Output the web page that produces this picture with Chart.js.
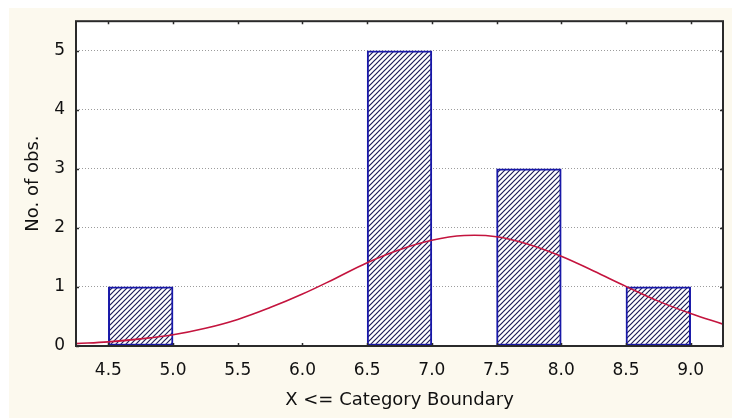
<!DOCTYPE html>
<html>
<head>
<meta charset="utf-8">
<title>Histogram</title>
<script src="https://cdn.jsdelivr.net/npm/chart.js@4.4.1/dist/chart.umd.min.js"></script>
<style>
  html, body { margin: 0; padding: 0; background: #ffffff; }
  canvas { display: block; }
</style>
</head>
<body>
<canvas id="histChart" width="732" height="420"></canvas>
<script>
// histogram bins (lower boundary) and counts
const binStarts = [4.5, 5.0, 5.5, 6.0, 6.5, 7.0, 7.5, 8.0, 8.5];
const binCounts = [1, 0, 0, 0, 5, 0, 3, 0, 1];
const binWidth = 0.5;

// fitted normal curve
const fitX = [4.25, 4.5, 4.75, 5.0, 5.25, 5.5, 5.75, 6.0, 6.25, 6.5, 6.75,
  7.0, 7.25, 7.5, 7.75, 8.0, 8.25, 8.5, 8.75, 9.0, 9.25];
const fitY = [0.04, 0.07, 0.12, 0.19, 0.30, 0.45, 0.65, 0.88, 1.14, 1.41, 1.63,
  1.79, 1.87, 1.85, 1.72, 1.52, 1.27, 1.01, 0.76, 0.55, 0.37];

const xTicks = [4.5, 5.0, 5.5, 6.0, 6.5, 7.0, 7.5, 8.0, 8.5, 9.0];
const yTicks = [0, 1, 2, 3, 4, 5];

const fontFamily = "'DejaVu Sans', 'Liberation Sans', sans-serif";
const textColor = "#111111";

document.addEventListener("DOMContentLoaded", () => {
  new Chart(document.getElementById("histChart"), {
    type: "bar",
    data: {
      datasets: [
        {
          type: "line",
          label: "Normal fit",
          data: fitX.map((x, i) => ({ x, y: fitY[i] })),
          borderColor: "#c4143e",
          borderWidth: 1.6,
          pointRadius: 0,
          tension: 0.4,
          fill: false
        },
        {
          label: "No. of obs.",
          data: binStarts.map((start, i) => ({ x: start + binWidth / 2, y: binCounts[i] })),
          backgroundColor: createHatch(),
          borderColor: "#1818a8",
          borderWidth: 2,
          borderSkipped: false,
          categoryPercentage: 1,
          barPercentage: 1
        }
      ]
    },
    options: {
      responsive: false,
      animation: false,
      layout: {
        padding: { top: 21, right: 9, left: 0, bottom: 0 }
      },
      plugins: {
        legend: { display: false },
        tooltip: { enabled: false }
      },
      scales: {
        x: {
          type: "linear",
          offset: false,
          min: 4.25,
          max: 9.25,
          afterBuildTicks: (scale) => {
            scale.ticks = xTicks.map((value) => ({ value }));
          },
          afterFit: (scale) => {
            scale.height = 74;
          },
          grid: { display: false, offset: false },
          border: { display: false },
          ticks: {
            autoSkip: false,
            maxRotation: 0,
            padding: 6,
            color: textColor,
            font: { family: fontFamily, size: 17 },
            callback: (value) => Number(value).toFixed(1)
          },
          title: {
            display: true,
            text: "X <= Category Boundary",
            color: textColor,
            font: { family: fontFamily, size: 18 },
            padding: { top: 0, bottom: 9 }
          }
        },
        y: {
          min: 0,
          max: 5.5,
          afterBuildTicks: (scale) => {
            scale.ticks = yTicks.map((value) => ({ value }));
          },
          afterFit: (scale) => {
            scale.width = 76;
          },
          grid: {
            color: "#9c9c9c",
            lineWidth: 1,
            drawTicks: false
          },
          border: { display: false, dash: [1, 2] },
          ticks: {
            padding: 11,
            color: textColor,
            font: { family: fontFamily, size: 17 },
            callback: (value) => String(value)
          },
          title: {
            display: true,
            text: "No. of obs.",
            color: textColor,
            font: { family: fontFamily, size: 18 },
            padding: { top: 23, bottom: 0 }
          }
        }
      }
    },
    plugins: [backgroundPlugin, framePlugin]
  });
});

function createHatch() {
  const size = 5;
  const tile = document.createElement("canvas");
  tile.width = size;
  tile.height = size;
  const c = tile.getContext("2d");
  c.fillStyle = "#ffffff";
  c.fillRect(0, 0, size, size);
  c.strokeStyle = "#1c1c58";
  c.lineWidth = 1.2;
  c.beginPath();
  c.moveTo(-1, size + 1);
  c.lineTo(size + 1, -1);
  c.moveTo(-1, 1);
  c.lineTo(1, -1);
  c.moveTo(size - 1, size + 1);
  c.lineTo(size + 1, size - 1);
  c.stroke();
  return c.createPattern(tile, "repeat");
}

const backgroundPlugin = {
  id: "backgroundPlugin",
  beforeDraw(chart) {
    const { ctx, width, height, chartArea } = chart;
    ctx.save();
    ctx.fillStyle = "#ffffff";
    ctx.fillRect(0, 0, width, height);
    ctx.fillStyle = "#fcf9ee";
    ctx.fillRect(9, 8, width - 9, height - 10);
    ctx.fillStyle = "#ffffff";
    ctx.fillRect(chartArea.left, chartArea.top, chartArea.right - chartArea.left, chartArea.bottom - chartArea.top);
    ctx.restore();
  }
};

const framePlugin = {
  id: "framePlugin",
  afterDraw(chart) {
    const { ctx, chartArea, scales } = chart;
    const { left, right, top, bottom } = chartArea;
    ctx.save();
    ctx.strokeStyle = "#2a2a2a";
    ctx.lineWidth = 1.5;
    xTicks.forEach((v) => {
      const px = Math.round(scales.x.getPixelForValue(v)) + 0.5;
      ctx.beginPath();
      ctx.moveTo(px, top);
      ctx.lineTo(px, top + 3);
      ctx.moveTo(px, bottom);
      ctx.lineTo(px, bottom - 3);
      ctx.stroke();
    });
    yTicks.forEach((v) => {
      const py = Math.round(scales.y.getPixelForValue(v)) + 0.5;
      ctx.beginPath();
      ctx.moveTo(left, py);
      ctx.lineTo(left + 3, py);
      ctx.moveTo(right, py);
      ctx.lineTo(right - 3, py);
      ctx.stroke();
    });
    ctx.lineWidth = 2;
    ctx.strokeRect(left, top, right - left, bottom - top);
    ctx.restore();
  }
};
</script>
</body>
</html>
